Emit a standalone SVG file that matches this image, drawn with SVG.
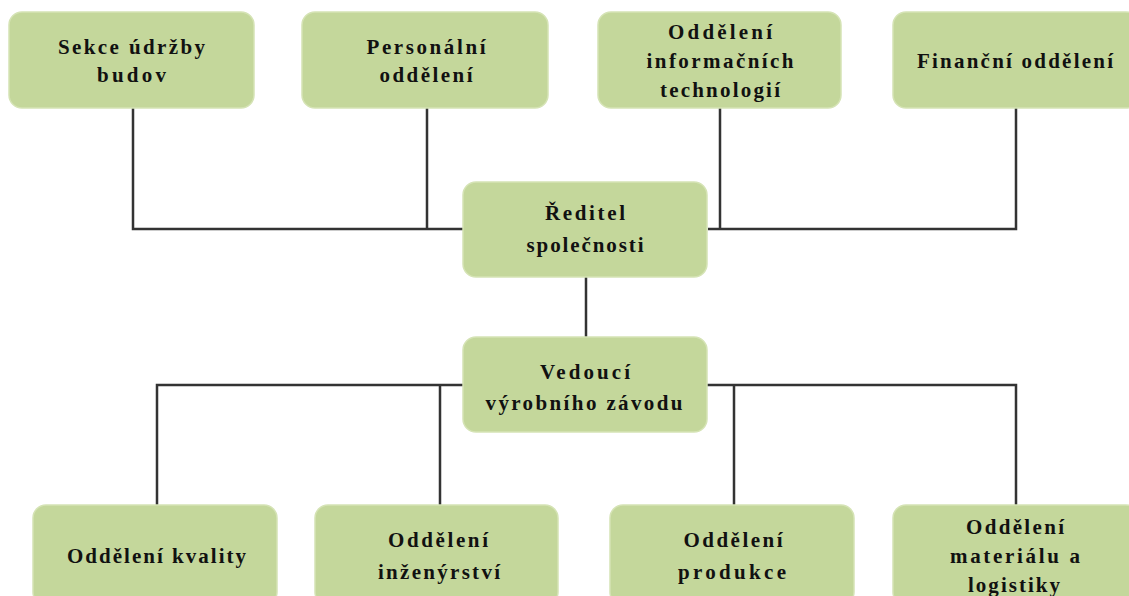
<svg xmlns="http://www.w3.org/2000/svg" width="1129" height="596" viewBox="0 0 1129 596">
<style>
.box{fill:#c4d79b;stroke:#d5e3b5;stroke-width:1.5}
.t{font-family:"Liberation Serif","Times New Roman",serif;font-weight:bold;font-size:21px;fill:#111;text-anchor:middle}
.c{fill:none;stroke:#333;stroke-width:2.5}
</style>
<rect width="1129" height="596" fill="#fff"/>
<g id="connectors">
<path class="c" d="M133 108V229H463M427 108V229M720 108V229M1016 108V229H708M720 229H708"/>
<path class="c" d="M586 277V337"/>
<path class="c" d="M463 385H157V505M440 385V505M707 385H1016V505M734 385V505"/>
</g>
<g id="n1"><rect class="box" x="9" y="12" width="245" height="96" rx="13"/>
<text class="t" x="131.5" y="54" textLength="147" lengthAdjust="spacing">Sekce údržby</text>
<text class="t" x="131.5" y="82" textLength="69" lengthAdjust="spacing">budov</text></g>
<g id="n2"><rect class="box" x="302" y="12" width="246" height="96" rx="13"/>
<text class="t" x="426" y="54" textLength="119" lengthAdjust="spacing">Personální</text>
<text class="t" x="426" y="82" textLength="93" lengthAdjust="spacing">oddělení</text></g>
<g id="n3"><rect class="box" x="598" y="12" width="243" height="96" rx="13"/>
<text class="t" x="720" y="39" textLength="104" lengthAdjust="spacing">Oddělení</text>
<text class="t" x="720" y="68" textLength="147" lengthAdjust="spacing">informačních</text>
<text class="t" x="720" y="97" textLength="120" lengthAdjust="spacing">technologií</text></g>
<g id="n4"><rect class="box" x="893" y="12" width="246" height="96" rx="13"/>
<text class="t" x="1015" y="68" textLength="196" lengthAdjust="spacing">Finanční oddělení</text></g>
<g id="n5"><rect class="box" x="463" y="182" width="244" height="95" rx="13"/>
<text class="t" x="585" y="220" textLength="80" lengthAdjust="spacing">Ředitel</text>
<text class="t" x="585" y="252" textLength="117" lengthAdjust="spacing">společnosti</text></g>
<g id="n6"><rect class="box" x="463" y="337" width="244" height="95" rx="13"/>
<text class="t" x="585" y="379" textLength="90" lengthAdjust="spacing">Vedoucí</text>
<text class="t" x="584" y="410" textLength="197" lengthAdjust="spacing">výrobního závodu</text></g>
<g id="n7"><rect class="box" x="33" y="505" width="244" height="100" rx="13"/>
<text class="t" x="156.5" y="563" textLength="179" lengthAdjust="spacing">Oddělení kvality</text></g>
<g id="n8"><rect class="box" x="315" y="505" width="243" height="100" rx="13"/>
<text class="t" x="438" y="547" textLength="100" lengthAdjust="spacing">Oddělení</text>
<text class="t" x="439" y="579" textLength="122" lengthAdjust="spacing">inženýrství</text></g>
<g id="n9"><rect class="box" x="610" y="505" width="244" height="100" rx="13"/>
<text class="t" x="733" y="547" textLength="99" lengthAdjust="spacing">Oddělení</text>
<text class="t" x="732" y="579" textLength="108" lengthAdjust="spacing">produkce</text></g>
<g id="n10"><rect class="box" x="893" y="505" width="246" height="100" rx="13"/>
<text class="t" x="1015" y="534" textLength="98" lengthAdjust="spacing">Oddělení</text>
<text class="t" x="1015" y="563" textLength="130" lengthAdjust="spacing">materiálu a</text>
<text class="t" x="1014" y="592" textLength="92" lengthAdjust="spacing">logistiky</text></g>
</svg>
